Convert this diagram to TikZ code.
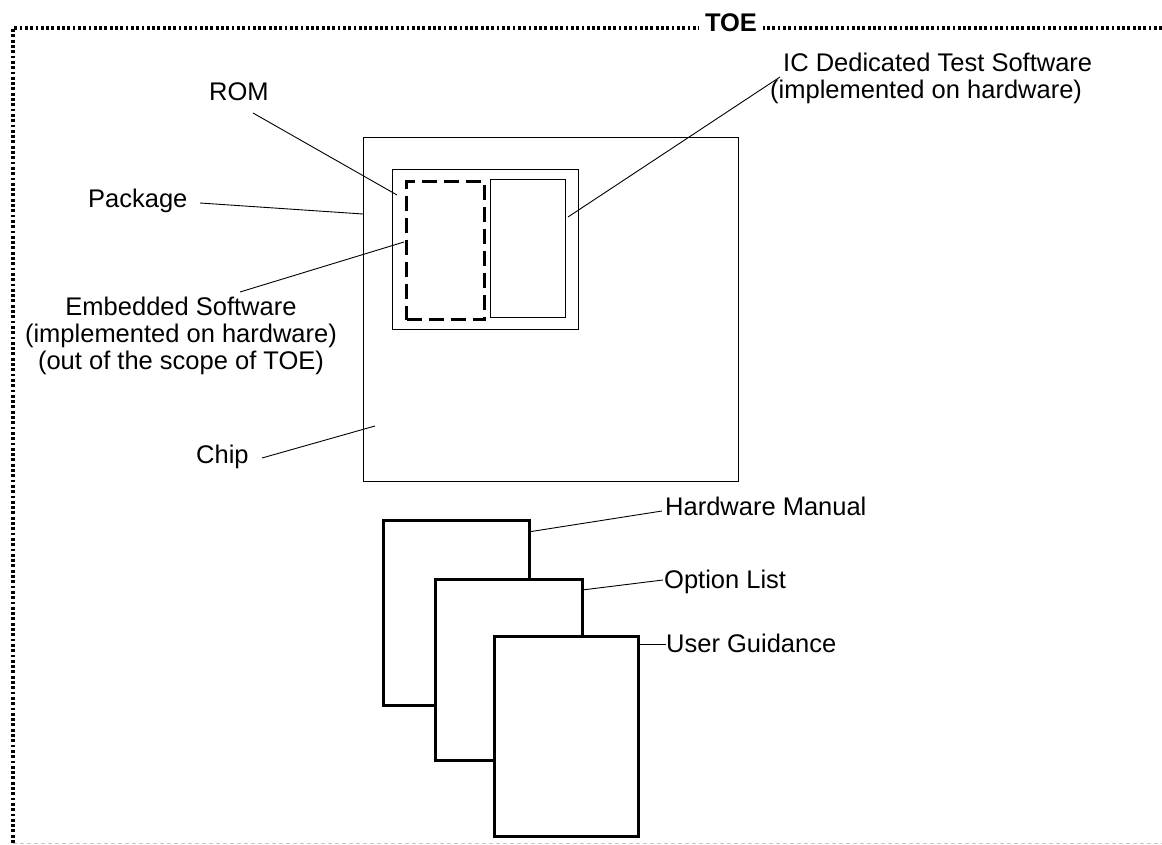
\documentclass[tikz,border=0pt]{standalone}
\usepackage{fontspec}
\setmainfont{Liberation Sans}
\begin{document}
\begin{tikzpicture}[x=1bp,y=-1bp,
  lbl/.style={inner sep=0pt, font=\fontsize{25.5bp}{27bp}\selectfont},
  leader/.style={draw=black, line width=0.9bp},
  thinbox/.style={draw=black, line width=1.3bp, inner sep=0pt, anchor=north west},
  docbox/.style={draw=black, fill=white, line width=3bp, inner sep=0pt, anchor=north west},
  frameline/.style={line width=3.2bp, dash pattern=on 2.8bp off 2.5bp}
]
\useasboundingbox (0,0) rectangle (1162,845);
% TOE frame
\coordinate (ftl) at (13,28);
\coordinate (ftr) at (1162,28);
\coordinate (fbl) at (13,845);
\coordinate (fbl2) at (13,843.5);
\coordinate (fbr) at (1162,843.5);
\draw[frameline] (ftr) -- (ftl) -- (fbl);
\draw[gray!45, line width=1bp, dash pattern=on 4bp off 3bp] (fbl2) -- (fbr);
\node[fill=white, inner xsep=6bp, inner ysep=2bp, font=\fontsize{25.5bp}{27bp}\selectfont\bfseries] (toe) at (731,23) {TOE};

% chip and contents
\node[thinbox, minimum width=375bp, minimum height=344bp] (chip) at (363,137) {};
\node[thinbox, minimum width=186bp, minimum height=160bp] (pkg) at (392,169) {};
\node[thinbox, minimum width=75bp, minimum height=138bp] (ic) at (490,179) {};
\node[draw=black, line width=3bp, dash pattern=on 15bp off 7bp, inner sep=0pt, anchor=north west, minimum width=78bp, minimum height=138bp] (rom) at (405,180) {};

% documents
\node[docbox, minimum width=146bp, minimum height=185bp] (doc1) at (382,519) {};
\node[docbox, minimum width=147bp, minimum height=181bp] (doc2) at (434,578) {};
\node[docbox, minimum width=144bp, minimum height=200bp] (doc3) at (493,635) {};

% labels
\node[lbl, anchor=base west] (romlbl) at (209,100) {ROM};
\node[lbl, anchor=base west] (pkglbl) at (88,207) {Package};
\node[lbl, anchor=north, align=center] (emblbl) at (181,297) {Embedded Software\\(implemented on hardware)\\(out of the scope of TOE)};
\node[lbl, anchor=base west] (chiplbl) at (196,463) {Chip};
\node[lbl, anchor=north west, align=left] (iclbl) at (770,53) {\hspace{13bp}IC Dedicated Test Software\\(implemented on hardware)};
\node[lbl, anchor=base west] (hmlbl) at (665,515) {Hardware Manual};
\node[lbl, anchor=base west] (ollbl) at (664,588) {Option List};
\node[lbl, anchor=base west] (uglbl) at (666,652) {User Guidance};

% leader end points
\coordinate (romA) at (253,113);  \coordinate (romB) at (397,195);
\coordinate (pkgA) at (200,203);  \coordinate (pkgB) at (363,214);
\coordinate (embA) at (240,292);  \coordinate (embB) at (404,242);
\coordinate (chipA) at (262,458); \coordinate (chipB) at (375,426);
\coordinate (icA) at (780,77);    \coordinate (icB) at (568,217);
\coordinate (hmA) at (662,511);   \coordinate (hmB) at (528,532);
\coordinate (olA) at (663,580);   \coordinate (olB) at (582,590);
\coordinate (ugA) at (666,644);   \coordinate (ugB) at (637,644);

\draw[leader] (romA) -- (romB);
\draw[leader] (pkgA) -- (pkgB);
\draw[leader] (embA) -- (embB);
\draw[leader] (chipA) -- (chipB);
\draw[leader] (icA) -- (icB);
\draw[leader] (hmA) -- (hmB);
\draw[leader] (olA) -- (olB);
\draw[leader] (ugA) -- (ugB);
\end{tikzpicture}
\end{document}
